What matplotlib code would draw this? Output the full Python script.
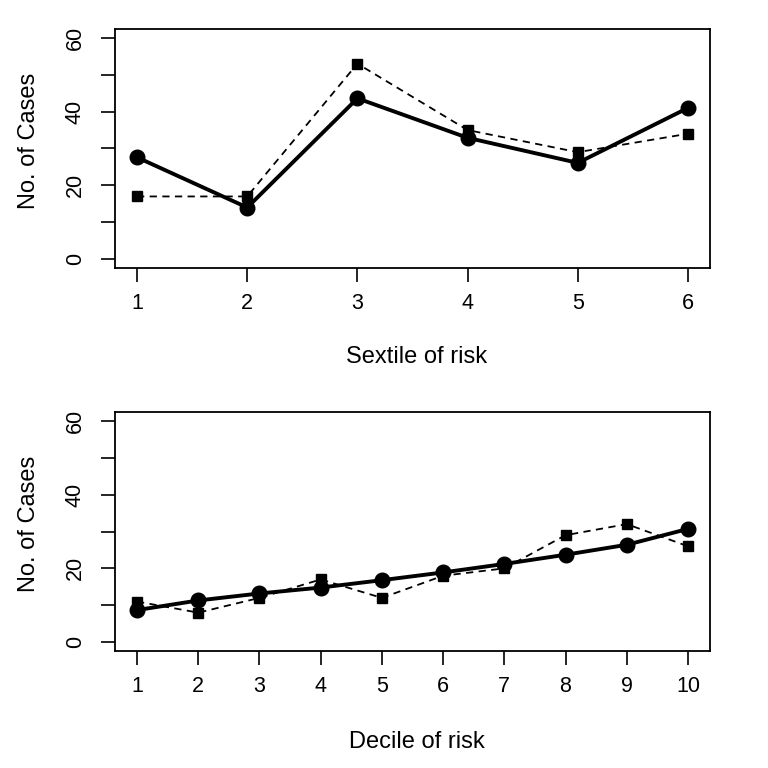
import matplotlib
matplotlib.use("Agg")
import matplotlib.pyplot as plt

sextiles = [1, 2, 3, 4, 5, 6]
sext_expected = [27.6, 14.0, 43.6, 32.9, 26.1, 41.0]
sext_observed = [17, 17, 53, 35, 29, 34]

deciles = [1, 2, 3, 4, 5, 6, 7, 8, 9, 10]
dec_expected = [8.7, 11.3, 13.2, 14.8, 16.8, 18.9, 21.2, 23.7, 26.4, 30.7]
dec_observed = [11, 8, 12, 17, 12, 18, 20, 29, 32, 26]

yticks = [0, 10, 20, 30, 40, 50, 60]
ylabels_shown = ["0", "", "20", "", "40", "", "60"]

plt.rcParams['font.family'] = ['Liberation Sans', 'DejaVu Sans']

fig = plt.figure(figsize=(7.68, 7.68), dpi=100)
W = H = 768.0

def make_ax(top_px, bottom_px):
    return fig.add_axes([115 / W, 1 - bottom_px / H, (710 - 115) / W, (bottom_px - top_px) / H])

ax1 = make_ax(29, 268)
ax2 = make_ax(412, 651)

def style(ax, xs, exp, obs, xlabel, xlabel_y, ylabel_y):
    ax.plot(xs, exp, color='black', lw=2.8, marker='o', markersize=10.5, solid_joinstyle='miter')
    ax.plot(xs, obs, color='black', lw=1.3, linestyle=(0, (4, 3)), marker='s', markersize=7.5)
    n = xs[-1] - xs[0]
    ax.set_xlim(xs[0] - 0.04 * n, xs[-1] + 0.04 * n)
    ax.set_ylim(-2.4, 62.4)
    ax.set_xticks(xs)
    ax.set_xticklabels([str(x) for x in xs])
    ax.set_yticks(yticks)
    ax.set_yticklabels(ylabels_shown, rotation=90, va='center')
    ax.tick_params(axis='both', direction='out', length=10, width=1.2, labelsize=15.5, colors='black')
    ax.tick_params(axis='x', pad=8)
    ax.tick_params(axis='y', pad=11)
    for s in ax.spines.values():
        s.set_linewidth(1.3)
    fig.text(417 / W, 1 - xlabel_y / H, xlabel, ha='center', va='center', fontsize=17)
    fig.text(29 / W, 1 - ylabel_y / H, "No. of Cases", ha='center', va='center', rotation=90, fontsize=17)

style(ax1, sextiles, sext_expected, sext_observed, "Sextile of risk", 357, 141)
style(ax2, deciles, dec_expected, dec_observed, "Decile of risk", 742, 524)

fig.savefig("out.png", dpi=100)
